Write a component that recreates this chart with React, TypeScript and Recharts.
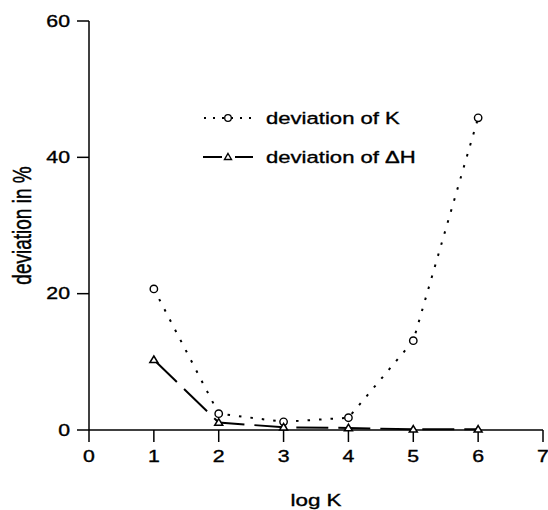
import { LineChart, Line, XAxis, YAxis, Legend, Label } from "recharts";

// values
const logK = [1, 2, 3, 4, 5, 6];
const devK = [20.7, 2.4, 1.2, 1.8, 13.1, 45.8];
const devH = [10.3, 1.1, 0.4, 0.3, 0.1, 0.1];
const xTicks = [0, 1, 2, 3, 4, 5, 6, 7];
const yTicks = [0, 20, 40, 60];

const data = logK.map((k, i) => ({ logK: k, devK: devK[i], devH: devH[i] }));

const FONT = '"Liberation Sans", Arial, Helvetica, sans-serif';
// the scanned figure has horizontally stretched, slightly heavy lettering
const STRETCH = 1.33;
const TXT = { fontFamily: FONT, fill: "#000", stroke: "#000", strokeWidth: 0.35 };

function XTick({ x, y, payload }: any) {
    return (
        <g transform={`translate(${x},${y})`}>
            <text transform={`scale(${STRETCH},1)`} textAnchor="middle" dy="0.72em" fontSize={16} {...TXT}>
                {payload.value}
            </text>
        </g>
    );
}

function YTick({ x, y, payload }: any) {
    return (
        <g transform={`translate(${x},${y})`}>
            <text transform={`scale(${STRETCH},1)`} textAnchor="end" dy="0.36em" fontSize={16} {...TXT}>
                {payload.value}
            </text>
        </g>
    );
}

function CircleDot({ cx, cy, key }: any) {
    return <circle key={key} cx={cx} cy={cy} r={3.7} fill="#fff" stroke="#000" strokeWidth={1.4} />;
}

function TriangleDot({ cx, cy, key }: any) {
    return (
        <path
            key={key}
            d={`M${cx},${cy - 3.8}L${cx + 4},${cy + 2.8}L${cx - 4},${cy + 2.8}Z`}
            fill="#fff"
            stroke="#000"
            strokeWidth={1.5}
        />
    );
}

function ChartLegend() {
    const text = (y: number, label: string) => (
        <text transform={`translate(66,${y}) scale(1.3,1)`} dy="0.36em" fontSize={17} {...TXT}>
            {label}
        </text>
    );
    return (
        <svg width={220} height={80} style={{ display: "block", overflow: "visible" }}>
            <line x1={4} y1={18} x2={52} y2={18} stroke="#000" strokeWidth={2} strokeDasharray="2 7" />
            <circle cx={28} cy={18} r={3.3} fill="#fff" stroke="#000" strokeWidth={1.3} />
            {text(18, "deviation of K")}
            <line x1={3} y1={57} x2={22} y2={57} stroke="#000" strokeWidth={2} />
            <line x1={35} y1={57} x2={53} y2={57} stroke="#000" strokeWidth={2} />
            <path d="M28,53.5L31.5,59.5L24.5,59.5Z" fill="#fff" stroke="#000" strokeWidth={1.4} />
            {text(57, "deviation of \u0394H")}
        </svg>
    );
}

export default function App() {
    return (
        <div style={{ position: "absolute", left: 0, top: 0, background: "#fff" }}>
            <LineChart width={548} height={510} data={data} margin={{ top: 21, right: 5, left: 0, bottom: 0 }}>
                <XAxis
                    dataKey="logK"
                    type="number"
                    domain={[0, 7]}
                    ticks={xTicks}
                    interval={0}
                    height={80}
                    tickSize={12}
                    tickMargin={8}
                    axisLine={{ stroke: "#000", strokeWidth: 1.5 }}
                    tickLine={{ stroke: "#000", strokeWidth: 1.5 }}
                    tick={<XTick />}
                >
                    <Label
                        content={(p: any) => {
                            const vb = p.viewBox;
                            return (
                                <text
                                    transform={`translate(${vb.x + vb.width / 2},${vb.y + 76}) scale(1.4,1)`}
                                    textAnchor="middle"
                                    fontSize={16}
                                    {...TXT}
                                >
                                    log K
                                </text>
                            );
                        }}
                    />
                </XAxis>
                <YAxis
                    type="number"
                    domain={[0, 60]}
                    ticks={yTicks}
                    interval={0}
                    width={89}
                    tickSize={12}
                    tickMargin={7}
                    axisLine={{ stroke: "#000", strokeWidth: 1.5 }}
                    tickLine={{ stroke: "#000", strokeWidth: 1.5 }}
                    tick={<YTick />}
                >
                    <Label
                        content={(p: any) => {
                            const vb = p.viewBox;
                            return (
                                <text
                                    transform={`translate(21,${vb.y + vb.height / 2}) scale(1.4,1) rotate(-90)`}
                                    textAnchor="middle"
                                    dy="0.36em"
                                    fontSize={19}
                                    {...TXT}
                                >
                                    deviation in %
                                </text>
                            );
                        }}
                    />
                </YAxis>
                <Legend
                    layout="vertical"
                    align="center"
                    verticalAlign="middle"
                    content={<ChartLegend />}
                    wrapperStyle={{ left: 200, top: 100, width: 220, height: 80 }}
                />
                <Line
                    type="linear"
                    dataKey="devK"
                    stroke="#000"
                    strokeWidth={2}
                    strokeDasharray="2.5 9"
                    dot={CircleDot}
                    activeDot={false}
                    isAnimationActive={false}
                />
                <Line
                    type="linear"
                    dataKey="devH"
                    stroke="#000"
                    strokeWidth={2}
                    strokeDasharray="32 10"
                    dot={TriangleDot}
                    activeDot={false}
                    isAnimationActive={false}
                />
            </LineChart>
        </div>
    );
}
